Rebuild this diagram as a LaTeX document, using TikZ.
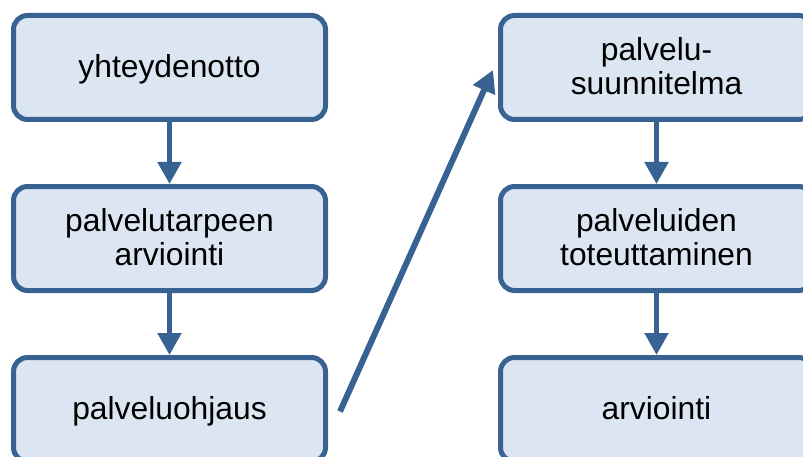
\documentclass[tikz,border=0pt]{standalone}
\usepackage{fontspec}
\setmainfont{Liberation Sans}
\usepackage{tikz}
\usetikzlibrary{positioning,arrows.meta}
\definecolor{vaihefill}{RGB}{220,230,242}
\definecolor{vaiheline}{RGB}{56,98,146}

\begin{document}
\begin{tikzpicture}[
	vaihe/.style={draw=vaiheline,fill=vaihefill,line width=2.5pt,rounded corners=7pt,
		minimum width=156pt,minimum height=52pt,align=center,text depth=1.5pt,
		font=\fontsize{15.9pt}{17pt}\selectfont},
	nuoli/.style={draw=vaiheline,line width=2.5pt,-{Triangle[width=11.5pt,length=11pt]}},
	node distance=31pt and 85pt]
	\useasboundingbox (0,0) rectangle (401.5pt,228pt);
	% vasen sarake
	\node[vaihe] (yhteys) at (84.75pt,194.25pt) {yhteydenotto};
	\node[vaihe,below=of yhteys] (tarve) {palvelutarpeen\\arviointi};
	\node[vaihe,below=of tarve] (ohjaus) {palveluohjaus};
	% oikea sarake
	\node[vaihe,right=of yhteys] (suunn) {palvelu-\\suunnitelma};
	\node[vaihe,below=of suunn] (toteutus) {palveluiden\\toteuttaminen};
	\node[vaihe,below=of toteutus] (arvio) {arviointi};
	\foreach\a\b in {yhteys/tarve, tarve/ohjaus, suunn/toteutus, toteutus/arvio}
		{\draw[nuoli] (\a.south) -- (\b.north);}
	\coordinate (alku) at ([xshift=6pt,yshift=-1pt]ohjaus.east);
	\coordinate (loppu) at ([xshift=-2.5pt,yshift=-1.25pt]suunn.west);
	\draw[nuoli,line width=3pt] (alku) -- (loppu);
\end{tikzpicture}
\end{document}
